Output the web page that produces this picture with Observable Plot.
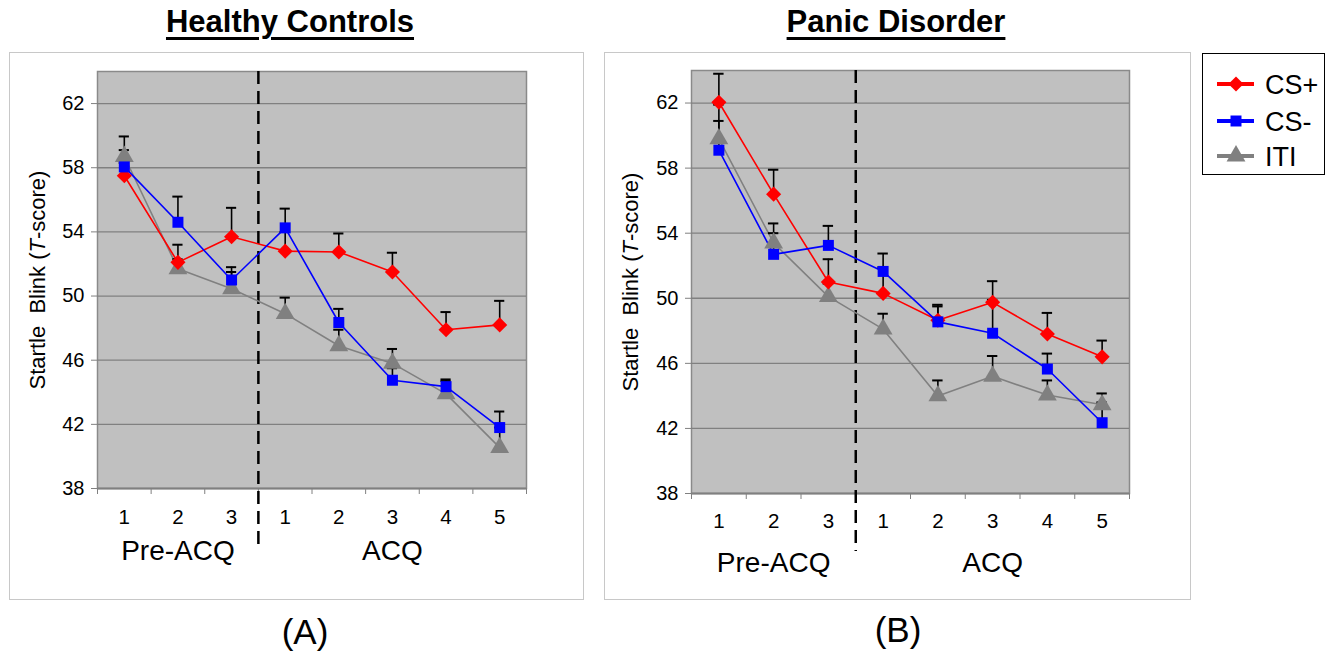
<!DOCTYPE html>
<html>
<head>
<meta charset="utf-8">
<script src="https://cdn.jsdelivr.net/npm/d3@7"></script>
<script src="https://cdn.jsdelivr.net/npm/@observablehq/plot@0.6"></script>
<style>
  html, body { margin: 0; padding: 0; background: #fff; }
  body { width: 1329px; height: 652px; position: relative; overflow: hidden; font-family: "Liberation Sans", Arial, sans-serif; }
  .frame { position: absolute; border: 1.5px solid #c8c8c8; box-sizing: border-box; }
  .title { position: absolute; font-weight: bold; font-size: 31px; text-decoration: underline; text-underline-offset: 5px; text-decoration-thickness: 2.5px; transform: translateX(-50%); white-space: nowrap; }
  .panel { position: absolute; }
  .ylab { position: absolute; font-size: 22px; white-space: nowrap; transform: translate(-50%, -50%) rotate(-90deg); }
  .tag { position: absolute; font-size: 35px; transform: translate(-50%, -50%); }
  #legend { position: absolute; left: 1202px; top: 53px; width: 123px; height: 122px; border: 1.5px solid #000; box-sizing: border-box; }
</style>
</head>
<body>
<div class="frame" style="left:9px;top:52px;width:575px;height:548px;"></div>
<div class="frame" style="left:604px;top:52px;width:587px;height:548px;"></div>
<div class="title" style="left:290px;top:4px;">Healthy Controls</div>
<div class="title" style="left:896px;top:4px;">Panic Disorder</div>
<div id="pA" class="panel" style="left:10px;top:52px;"></div>
<div id="pB" class="panel" style="left:604px;top:52px;"></div>
<div class="ylab" style="left:38px;top:280px;">Startle&nbsp; Blink (<i>T</i>-score)</div>
<div class="ylab" style="left:631px;top:282px;">Startle&nbsp; Blink (<i>T</i>-score)</div>
<div class="tag" style="left:305px;top:632px;">(A)</div>
<div class="tag" style="left:898px;top:630px;">(B)</div>
<div id="legend"></div>
<script>
// ---- data ----
const stages = ["1", "2", "3", "1", "2", "3", "4", "5"];
const phases = ["Pre-ACQ", "ACQ"];
const series = ["CS+", "CS-", "ITI"];
const yTicks = [38, 42, 46, 50, 54, 58, 62];

// Healthy controls: means and upper error (SE)
const hcCSplus   = [57.5, 52.1, 53.7, 52.8, 52.75, 51.5, 47.9, 48.2];
const hcCSplusSE = [0.8, 1.1, 1.8, 1.2, 1.15, 1.2, 1.1, 1.5];
const hcCSminus  = [58.05, 54.6, 51.0, 54.25, 48.35, 44.75, 44.35, 41.8];
const hcCSminusSE= [1.05, 1.6, 0.8, 1.2, 0.85, 0.75, 0.45, 1.0];
const hcITI      = [58.7, 51.7, 50.45, 48.9, 46.9, 45.8, 43.9, 40.55];
const hcITISE    = [1.25, 0.6, 1.05, 1.0, 1.0, 0.9, 0.8, 1.25];

// Panic disorder
const pdCSplus   = [62.05, 56.4, 51.0, 50.3, 48.65, 49.75, 47.8, 46.4];
const pdCSplusSE = [1.75, 1.5, 1.4, 1.6, 0.95, 1.3, 1.3, 1.0];
const pdCSminus  = [59.1, 52.7, 53.25, 51.65, 48.55, 47.85, 45.65, 42.35];
const pdCSminusSE= [2.8, 1.3, 1.2, 1.1, 0.95, 2.05, 0.95, 1.25];
const pdITI      = [59.8, 53.4, 50.1, 48.1, 44.0, 45.2, 44.05, 43.45];
const pdITISE    = [1.1, 1.2, 0.8, 0.95, 0.95, 1.25, 0.9, 0.7];

// ---- styles ----
const colors = {"CS+": "#ff0000", "CS-": "#0000ff", "ITI": "#808080"};
const symbols = {"CS+": "diamond2", "CS-": "square", "ITI": "triangle"};
const radii = {"CS+": 6.8, "CS-": 6.2, "ITI": 7.0};
const drawOrder = ["ITI", "CS+", "CS-"];
const FONT = "Liberation Sans, Arial, sans-serif";

function rows(vals, ses, name) {
  return vals.map((v, i) => ({series: name, i: i + 1, v, se: ses[i], top: v + ses[i]}));
}

function panel(el, data, cfg) {
  const idx = stages.map((_, i) => i + 1);
  const bounds = d3.range(0.5, 9, 1);
  const plotH = cfg.height - cfg.mt - cfg.mb;
  const perUnit = plotH / 26;
  const dashEnd = 38 - cfg.dashExtra / perUnit;
  const marks = [
    Plot.frame({fill: "#c0c0c0", stroke: "#8a8a8a", strokeWidth: 1.5}),
    Plot.ruleY(yTicks.filter(t => t > 38), {stroke: "#808080", strokeWidth: 1.3}),
    Plot.ruleY([38], {stroke: "#808080", strokeWidth: 2}),
    Plot.axisY({ticks: yTicks, tickSize: 6, tickPadding: 7, fontSize: 20, label: null, stroke: "#808080", fill: "black"}),
    Plot.axisX({ticks: bounds, tickSize: 6, tickFormat: () => "", label: null, stroke: "#808080"}),
    Plot.text(idx, {x: d => d, text: d => stages[d - 1], frameAnchor: "bottom", dy: cfg.tickDy, fontSize: 20.5, fill: "black"}),
    Plot.text([2, 6], {x: d => d, text: (d, k) => phases[k], frameAnchor: "bottom", dy: cfg.phaseDy, fontSize: 28, fill: "black"}),
    Plot.ruleX([3.5], {y1: 64, y2: dashEnd, stroke: "black", strokeWidth: 2.5, strokeDasharray: "13,7"})
  ];
  for (const s of drawOrder) {
    const d = data.filter(r => r.series === s);
    marks.push(Plot.line(d, {x: "i", y: "v", stroke: colors[s], strokeWidth: 1.6}));
  }
  const all = drawOrder.flatMap(s => data.filter(r => r.series === s));
  marks.push(Plot.ruleX(all, {x: "i", y1: "v", y2: "top", stroke: "black", strokeWidth: 1.6}));
  marks.push(Plot.ruleY(all, {y: "top", x1: d => d.i - 0.095, x2: d => d.i + 0.095, stroke: "black", strokeWidth: 2}));
  for (const s of drawOrder) {
    const d = data.filter(r => r.series === s);
    marks.push(Plot.dot(d, {x: "i", y: "v", symbol: () => symbols[s], fill: colors[s], stroke: "none", r: radii[s]}));
  }
  const chart = Plot.plot({
    width: cfg.width, height: cfg.height,
    marginLeft: cfg.ml, marginRight: cfg.mr, marginTop: cfg.mt, marginBottom: cfg.mb,
    x: {domain: [0.5, 8.5], axis: null},
    y: {domain: [38, 64], axis: null},
    symbol: {type: "identity"},
    style: {fontFamily: FONT, background: "transparent", overflow: "visible"},
    marks
  });
  el.appendChild(chart);
}

const hcData = [...rows(hcCSplus, hcCSplusSE, "CS+"), ...rows(hcCSminus, hcCSminusSE, "CS-"), ...rows(hcITI, hcITISE, "ITI")];
const pdData = [...rows(pdCSplus, pdCSplusSE, "CS+"), ...rows(pdCSminus, pdCSminusSE, "CS-"), ...rows(pdITI, pdITISE, "ITI")];

panel(document.getElementById("pA"), hcData, {width: 572, height: 546, ml: 87, mr: 56, mt: 19, mb: 110, tickDy: 35, phaseDy: 71, dashExtra: 62});
panel(document.getElementById("pB"), pdData, {width: 586, height: 546, ml: 87, mr: 61, mt: 18, mb: 105, tickDy: 34, phaseDy: 78, dashExtra: 58});

// ---- legend ----
const lg = d3.select("#legend").append("svg").attr("width", 120).attr("height", 119).style("font-family", FONT);
const ly = [30, 67, 102];
series.forEach((s, k) => {
  const g = lg.append("g").attr("transform", `translate(0,${ly[k]})`);
  g.append("line").attr("x1", 14).attr("x2", 51).attr("stroke", colors[s]).attr("stroke-width", 4);
  const type = {"CS+": d3.symbolDiamond2, "CS-": d3.symbolSquare, "ITI": d3.symbolTriangle}[s];
  g.append("path").attr("transform", "translate(33,0)").attr("d", d3.symbol(type, Math.PI * radii[s] * radii[s])()).attr("fill", colors[s]);
  g.append("text").attr("x", 62).attr("y", 0).attr("dy", "0.36em").attr("font-size", 27).text(s);
});
</script>
</body>
</html>
